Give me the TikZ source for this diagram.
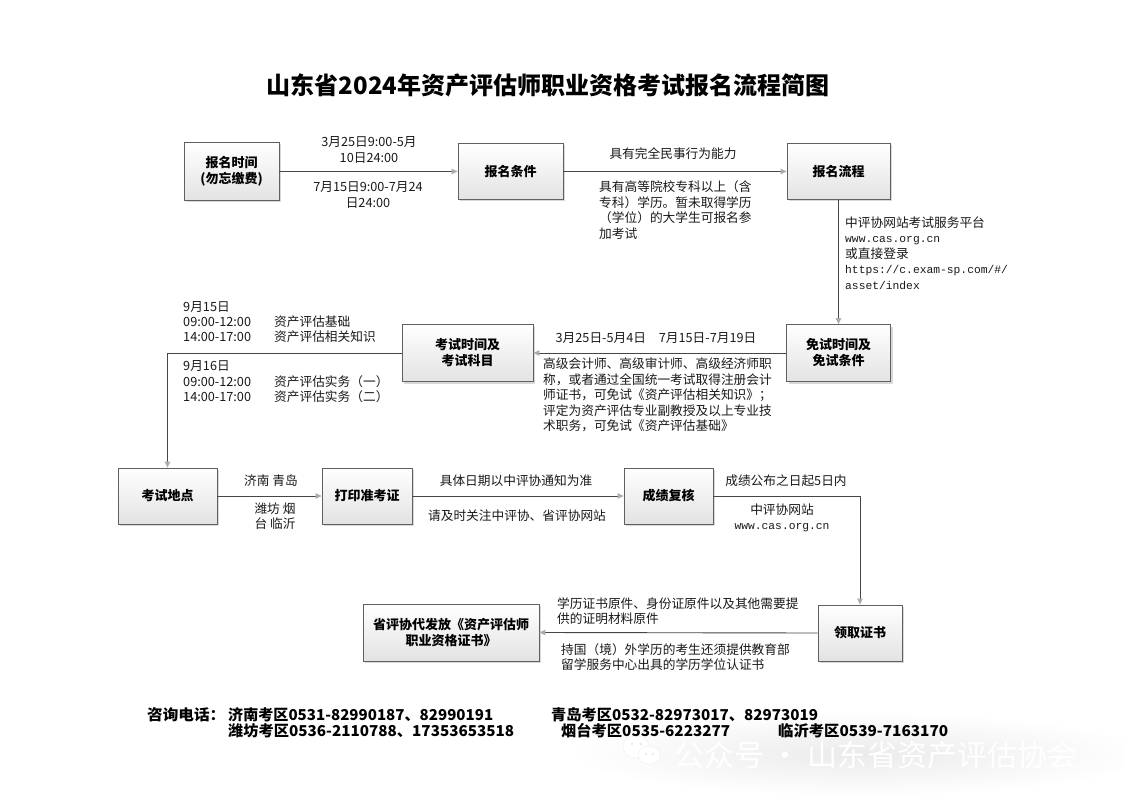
\documentclass[tikz,border=0pt]{standalone}
\usepackage{graphicx}
\usepackage{fontspec}
\setmainfont{Noto Sans CJK SC}
\newfontfamily\mono{Liberation Mono}
\usetikzlibrary{arrows.meta,shadows}
\newcommand\fitw[2]{\resizebox{#1}{\height}{#2}}
\newcommand\tm[1]{\makebox[91pt][l]{#1}}
\newcommand\ms[1]{{\mono\fontsize{11.3}{15.2}\selectfont #1}}
\begin{document}
\begin{tikzpicture}[x=1pt,y=-1pt,
  box/.style={draw=gray!75!black, line width=0.8pt, top color=white, bottom color=gray!22,
    drop shadow={shadow xshift=2pt,shadow yshift=-2pt,opacity=0.3},
    font=\bfseries\fontsize{13}{16}\selectfont, align=center, inner sep=0pt},
  lbl/.style={font=\fontsize{12.7}{15.4}\selectfont, inner sep=0pt, text=black!90},
  foot/.style={font=\bfseries\fontsize{15}{15}\selectfont, inner sep=0pt, anchor=west},
  arr/.style={draw=gray!55!black, line width=0.9pt, -{Triangle[length=6pt,width=5.5pt,color=gray!65]}},
]
\useasboundingbox (0,0) rectangle (1123,794);
\fill[white] (0,0) rectangle (1123,794);

% watermark background
\shade[inner color=gray!16, outer color=white] (860,754) ellipse [x radius=290, y radius=42];

\node[font=\bfseries\fontsize{24}{28}\selectfont] (title) at (548,85) {山东省2024年资产评估师职业资格考试报名流程简图};

% boxes
\node[box, minimum width=95pt, minimum height=58pt] (b1) at (231.5,171.5) {报名时间\\(勿忘缴费)};
\node[box, minimum width=105pt, minimum height=56pt] (b2) at (510.5,171.5) {报名条件};
\node[box, minimum width=103pt, minimum height=56pt] (b3) at (838.5,171.5) {报名流程};
\node[box, minimum width=104pt, minimum height=57pt] (b4) at (838.5,353) {免试时间及\\免试条件};
\node[box, minimum width=131pt, minimum height=57pt] (b5) at (467.5,353) {考试时间及\\考试科目};
\node[box, minimum width=99pt, minimum height=56pt] (b6) at (167.5,496) {考试地点};
\node[box, minimum width=90pt, minimum height=56pt] (b7) at (367,496) {打印准考证};
\node[box, minimum width=89pt, minimum height=56pt] (b8) at (668.5,496) {成绩复核};
\node[box, minimum width=84pt, minimum height=56pt] (b9) at (860,633) {领取证书};
\node[box, minimum width=176pt, minimum height=57pt] (b10) at (451,632.5) {省评协代发放《资产评估师\\职业资格证书》};

% connectors
\draw[arr] (b1.east) -- (b2.west);
\draw[arr] (b2.east) -- (b3.west);
\draw[arr] (b3.south) -- (b4.north);
\draw[arr] (b4.west) -- (b5.east);
\draw[arr] (b5.west) -| (b6.north);
\draw[arr] (b6.east) -- (b7.west);
\draw[arr] (b7.east) -- (b8.west);
\draw[arr] (b8.east) -| (b9.north);
\draw[arr] (b9.west) -- (b10.east);

% labels
\node[lbl, align=center] (l1) at (369,150) {3月25日9:00-5月\\10日24:00};
\node[lbl, align=center] (l2) at (368,195) {7月15日9:00-7月24\\日24:00};
\node[lbl] (l3) at (673,154) {具有完全民事行为能力};
\node[lbl, align=left, anchor=west] (l4) at (599,210) {具有高等院校专科以上（含\\专科）学历。暂未取得学历\\（学位）的大学生可报名参\\加考试};
\node[lbl, align=left, anchor=west] (l5) at (845,253) {中评协网站考试服务平台\\\ms{www.cas.org.cn}\\或直接登录\\\ms{https://c.exam-sp.com/\#/}\\\ms{asset/index}};
\node[lbl] (l6) at (656,338) {3月25日-5月4日　7月15日-7月19日};
\node[lbl, align=left, anchor=west] (l7) at (543,395) {高级会计师、高级审计师、高级经济师职\\称，或者通过全国统一考试取得注册会计\\师证书，可免试《资产评估相关知识》；\\评定为资产评估专业副教授及以上专业技\\术职务，可免试《资产评估基础》};
\node[lbl, align=left, anchor=west] (l8) at (183,322) {9月15日\\\tm{09:00-12:00}资产评估基础\\\tm{14:00-17:00}资产评估相关知识};
\node[lbl, align=left, anchor=west] (l9) at (183,382) {9月16日\\\tm{09:00-12:00}资产评估实务（一）\\\tm{14:00-17:00}资产评估实务（二）};
\node[lbl] (l10) at (271,481) {济南 青岛};
\node[lbl, align=center] (l11) at (275,516) {潍坊 烟\\台 临沂};
\node[lbl] (l12) at (516,481) {具体日期以中评协通知为准};
\node[lbl] (l13) at (517,516) {请及时关注中评协、省评协网站};
\node[lbl] (l14) at (786,481) {成绩公布之日起5日内};
\node[lbl, align=center] (l15) at (782,518) {中评协网站\\\ms{www.cas.org.cn}};
\node[lbl, align=left, anchor=west] (l16) at (557,611) {学历证书原件、身份证原件以及其他需要提\\供的证明材料原件};
\node[lbl, align=left, anchor=west] (l17) at (561,657) {持国（境）外学历的考生还须提供教育部\\留学服务中心出具的学历学位认证书};

% watermark icon
\fill[white, draw=gray!12] (636,747) ellipse [x radius=13, y radius=11];
\fill[white, draw=gray!12] (649,755) ellipse [x radius=11, y radius=9];
\fill[gray!15] (632,744) circle (1.6) (641,744) circle (1.6) (646,754) circle (1.3) (653,754) circle (1.3);

% watermark text
\node[font=\fontsize{30}{30}\selectfont, text=white, anchor=base west, inner sep=0pt, text height=21pt, text depth=4pt] (wm) at (674,766) {公众号 · 山东省资产评估协会};

% footer
\node[foot] (f0) at (147,715) {\fitw{78pt}{咨询电话：}};
\node[foot] (f1) at (228,715) {\fitw{265pt}{济南考区0531-82990187、82990191}};
\node[foot] (f2) at (551,715) {\fitw{267pt}{青岛考区0532-82973017、82973019}};
\node[foot] (f3) at (228,731) {\fitw{286pt}{潍坊考区0536-2110788、17353653518}};
\node[foot] (f4) at (561,731) {\fitw{169pt}{烟台考区0535-6223277}};
\node[foot] (f5) at (778,731) {\fitw{170pt}{临沂考区0539-7163170}};
\end{tikzpicture}
\end{document}
